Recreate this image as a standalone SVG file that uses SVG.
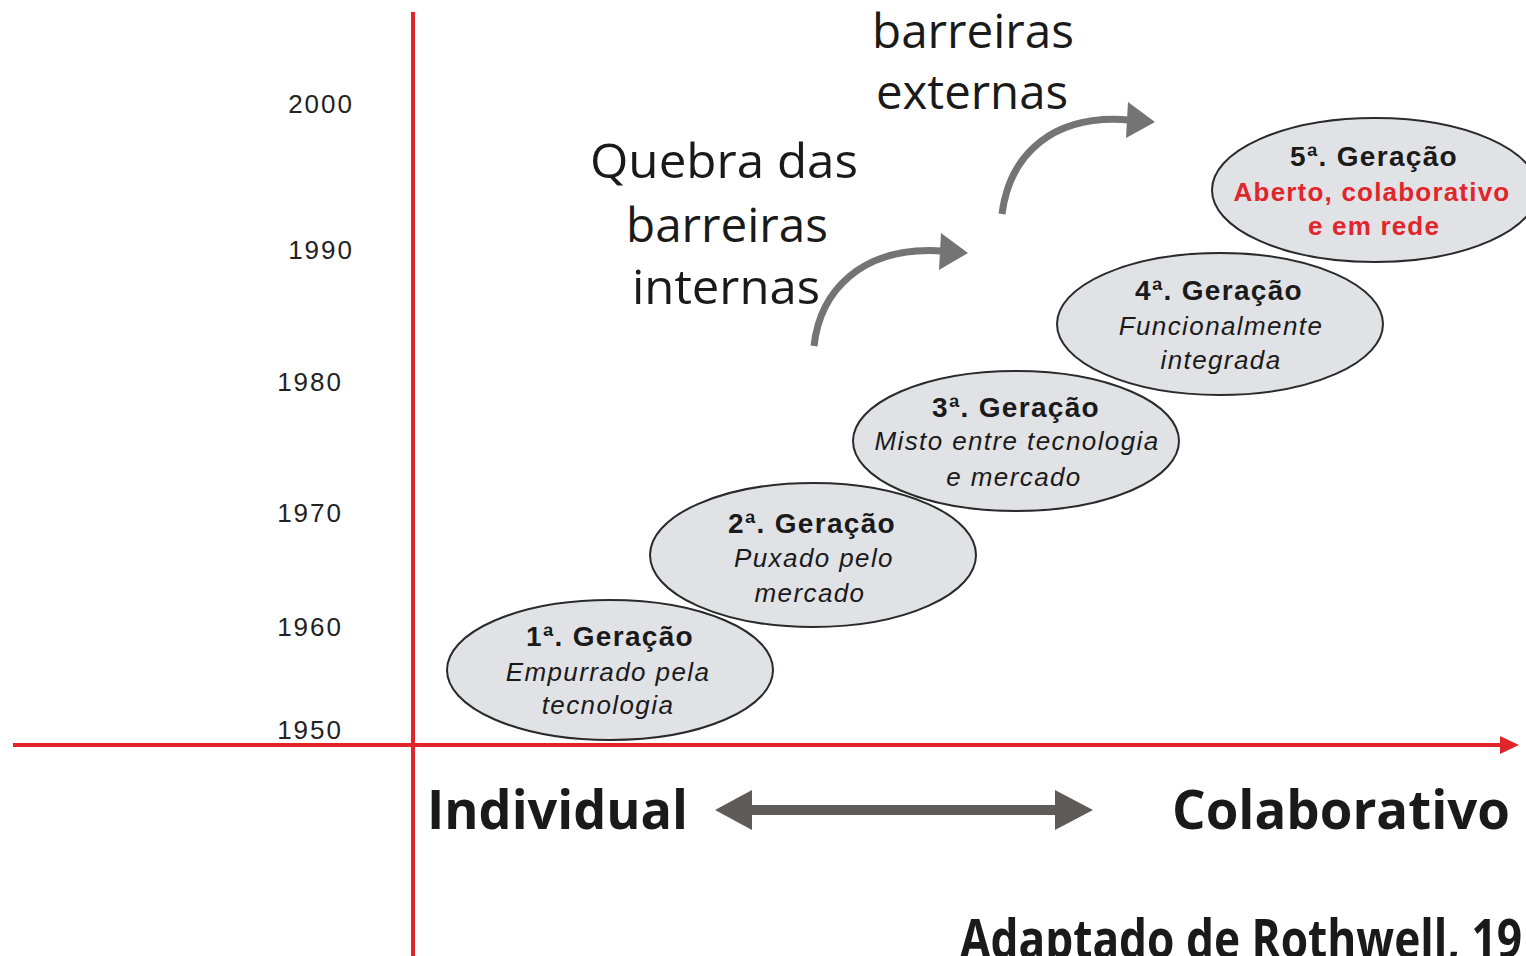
<svg xmlns="http://www.w3.org/2000/svg" width="1526" height="956" viewBox="0 0 1526 956">
<style>
.year{font-family:"Liberation Sans",Arial,sans-serif;font-size:26px;fill:#222;letter-spacing:2px;text-anchor:end}
.ell{fill:#e1e2e6;stroke:#2a2a2a;stroke-width:2}
.t{font-family:"Liberation Sans",Arial,sans-serif;font-size:28px;font-weight:bold;fill:#1a1a1a;letter-spacing:1.3px;text-anchor:middle}
.s{font-family:"Liberation Sans",Arial,sans-serif;font-size:26px;font-style:italic;fill:#1a1a1a;letter-spacing:1.4px;text-anchor:middle}
.r{font-family:"Liberation Sans",Arial,sans-serif;font-size:26px;font-weight:bold;fill:#e0262a;letter-spacing:1.2px;text-anchor:middle}
.big{font-family:"Open Sans","DejaVu Sans",sans-serif;font-size:48px;fill:#1a1a1a;text-anchor:middle}
.bold{font-family:"Open Sans","DejaVu Sans",sans-serif;font-size:54px;font-weight:bold;fill:#1a1a1a}
.axis{stroke:#e0262a;stroke-width:4;fill:none}
.curve{stroke:#747474;stroke-width:7;fill:none}
</style>
<rect width="1526" height="956" fill="#ffffff"/>
<g id="axes">
<line class="axis" x1="413" y1="12" x2="413" y2="956"/>
<line class="axis" x1="13" y1="745" x2="1506" y2="745"/>
<polygon points="1519,745 1500,736 1500,754" fill="#e0262a"/>
</g>
<g id="years">
<text class="year" x="354" y="113">2000</text>
<text class="year" x="354" y="259">1990</text>
<text class="year" x="343" y="391">1980</text>
<text class="year" x="343" y="522">1970</text>
<text class="year" x="343" y="636">1960</text>
<text class="year" x="343" y="739">1950</text>
</g>
<g id="connectors">
<path class="curve" d="M814,346 C820,292 860,246 942,251"/>
<polygon points="968,253 941,233 939,270" fill="#747474"/>
<path class="curve" d="M1002,214 C1010,152 1055,114 1129,120"/>
<polygon points="1155,122 1128,102 1126,138" fill="#747474"/>
<line x1="748" y1="810" x2="1060" y2="810" stroke="#5f5b5b" stroke-width="10"/>
<polygon points="715,810 752,790 752,830" fill="#5f5b5b"/>
<polygon points="1093,810 1055,790 1055,830" fill="#5f5b5b"/>
</g>
<g id="gen1">
<ellipse class="ell" cx="610" cy="670" rx="163" ry="70"/>
<text class="t" x="610" y="646">1ª. Geração</text>
<text class="s" x="608" y="681">Empurrado pela</text>
<text class="s" x="608" y="714">tecnologia</text>
</g>
<g id="gen2">
<ellipse class="ell" cx="813" cy="555" rx="163" ry="72"/>
<text class="t" x="812" y="533">2ª. Geração</text>
<text class="s" x="814" y="567">Puxado pelo</text>
<text class="s" x="810" y="602">mercado</text>
</g>
<g id="gen3">
<ellipse class="ell" cx="1016" cy="441" rx="163" ry="70"/>
<text class="t" x="1016" y="417">3ª. Geração</text>
<text class="s" x="1017" y="450">Misto entre tecnologia</text>
<text class="s" x="1014" y="486">e mercado</text>
</g>
<g id="gen4">
<ellipse class="ell" cx="1220" cy="324" rx="163" ry="71"/>
<text class="t" x="1219" y="300">4ª. Geração</text>
<text class="s" x="1221" y="335">Funcionalmente</text>
<text class="s" x="1221" y="369">integrada</text>
</g>
<g id="gen5">
<ellipse class="ell" cx="1375" cy="190" rx="163" ry="72"/>
<text class="t" x="1374" y="166">5ª. Geração</text>
<text class="r" x="1372" y="201">Aberto, colaborativo</text>
<text class="r" x="1374" y="235">e em rede</text>
</g>
<g id="labels">
<text class="big" x="724" y="178" textLength="268" lengthAdjust="spacingAndGlyphs">Quebra das</text>
<text class="big" x="727" y="242" textLength="202" lengthAdjust="spacingAndGlyphs">barreiras</text>
<text class="big" x="726" y="304" textLength="188" lengthAdjust="spacingAndGlyphs">internas</text>
<text class="big" x="973" y="48" textLength="202" lengthAdjust="spacingAndGlyphs">barreiras</text>
<text class="big" x="972" y="109" textLength="192" lengthAdjust="spacingAndGlyphs">externas</text>
<text class="bold" x="427" y="829" textLength="261" lengthAdjust="spacingAndGlyphs">Individual</text>
<text class="bold" x="1172" y="829" textLength="338" lengthAdjust="spacingAndGlyphs">Colaborativo</text>
<text class="bold" x="960" y="958" font-size="46" textLength="562" lengthAdjust="spacingAndGlyphs">Adaptado de Rothwell, 19</text>
</g>
</svg>
